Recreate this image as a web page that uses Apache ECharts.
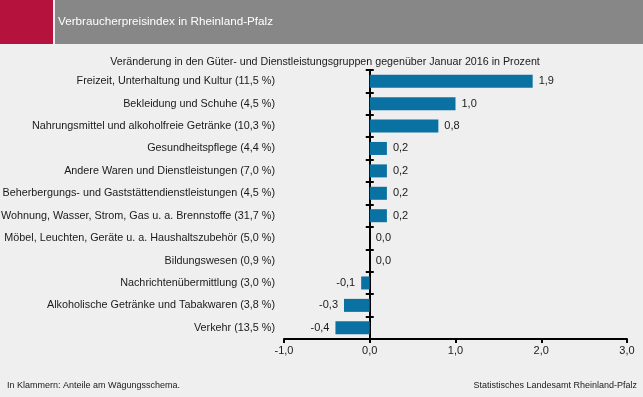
<!DOCTYPE html>
<html>
<head>
<meta charset="utf-8">
<script src="https://cdn.jsdelivr.net/npm/echarts@6/dist/echarts.min.js"></script>
<style>
  html, body { margin: 0; padding: 0; background: #eeefee; }
  #chart { width: 643px; height: 397px; }
</style>
</head>
<body>
<div id="chart"></div>
<script>
var categories = [
  'Freizeit, Unterhaltung und Kultur (11,5 %)',
  'Bekleidung und Schuhe (4,5 %)',
  'Nahrungsmittel und alkoholfreie Getränke (10,3 %)',
  'Gesundheitspflege (4,4 %)',
  'Andere Waren und Dienstleistungen (7,0 %)',
  'Beherbergungs- und Gaststättendienstleistungen (4,5 %)',
  'Wohnung, Wasser, Strom, Gas u. a. Brennstoffe (31,7 %)',
  'Möbel, Leuchten, Geräte u. a. Haushaltszubehör (5,0 %)',
  'Bildungswesen (0,9 %)',
  'Nachrichtenübermittlung (3,0 %)',
  'Alkoholische Getränke und Tabakwaren (3,8 %)',
  'Verkehr (13,5 %)'
];
var changes = [1.9, 1.0, 0.8, 0.2, 0.2, 0.2, 0.2, 0.0, 0.0, -0.1, -0.3, -0.4];

function fmt(v) {
  return v.toFixed(1).replace('.', ',');
}

var chart = echarts.init(document.getElementById('chart'));
var font = 'Liberation Sans, Arial, sans-serif';

// negative bars get their label on the left
var barData = changes.map(function (v) {
  return {
    value: v,
    label: { position: v < 0 ? 'left' : 'right' }
  };
});

var option = {
  backgroundColor: '#eeefee',
  animation: false,
  textStyle: { fontFamily: font },
  title: {
    text: 'Veränderung in den Güter- und Dienstleistungsgruppen gegenüber Januar 2016 in Prozent',
    left: 320,
    textAlign: 'center',
    top: 52,
    textStyle: { fontSize: 10.7, fontWeight: 'normal', color: '#1a1a1a', fontFamily: font }
  },
  graphic: [
    { type: 'rect', shape: { x: 0, y: 0, width: 53, height: 44 }, style: { fill: '#b5123e' } },
    { type: 'rect', shape: { x: 55, y: 0, width: 588, height: 44 }, style: { fill: '#878787' } },
    { type: 'text', left: 58, top: 16, style: { text: 'Verbraucherpreisindex in Rheinland-Pfalz', fill: '#ffffff', font: '11.7px ' + font } },
    { type: 'text', left: 7, top: 381, style: { text: 'In Klammern: Anteile am Wägungsschema.', fill: '#1a1a1a', font: '9px ' + font } },
    { type: 'text', right: 6, top: 381, style: { text: 'Statistisches Landesamt Rheinland-Pfalz', fill: '#1a1a1a', font: '9px ' + font } }
  ],
  grid: { left: 284, right: 16, top: 70, bottom: 58, outerBoundsMode: 'none' },
  xAxis: [
    {
      type: 'value',
      min: -1,
      max: 3,
      interval: 1,
      splitLine: { show: false },
      axisLine: { show: true, onZero: false, lineStyle: { color: '#000', width: 2 } },
      axisTick: { show: true, length: 4, lineStyle: { color: '#000', width: 2 } },
      axisLabel: { formatter: fmt, color: '#1a1a1a', fontSize: 11, margin: 6 }
    },
    {
      // hidden twin, only there so the outer half of the y ticks can sit on zero
      type: 'value',
      position: 'top',
      min: -1,
      max: 3,
      interval: 1,
      splitLine: { show: false },
      axisLine: { show: false, onZero: false },
      axisTick: { show: false },
      axisLabel: { show: false }
    }
  ],
  yAxis: [
    {
      type: 'category',
      data: categories,
      inverse: true,
      position: 'left',
      axisLine: { show: false, onZero: false },
      axisTick: { show: false },
      axisLabel: { color: '#1a1a1a', fontSize: 10.8, margin: 9 }
    },
    {
      type: 'category',
      data: categories,
      inverse: true,
      position: 'left',
      axisLine: { show: true, onZero: true, onZeroAxisIndex: 0, lineStyle: { color: '#000', width: 2 } },
      axisTick: { show: true, length: 4, inside: true, lineStyle: { color: '#000', width: 2 } },
      axisLabel: { show: false }
    },
    {
      type: 'category',
      data: categories,
      inverse: true,
      position: 'left',
      axisLine: { show: false, onZero: true, onZeroAxisIndex: 1 },
      axisTick: { show: true, length: 4, lineStyle: { color: '#000', width: 2 } },
      axisLabel: { show: false }
    }
  ],
  series: [{
    type: 'bar',
    data: barData,
    barWidth: 13,
    itemStyle: { color: '#0a72a3' },
    label: {
      show: true,
      formatter: function (p) { return fmt(p.value); },
      distance: 6,
      color: '#1a1a1a',
      fontSize: 11
    }
  }]
};

chart.setOption(option);
</script>
</body>
</html>
